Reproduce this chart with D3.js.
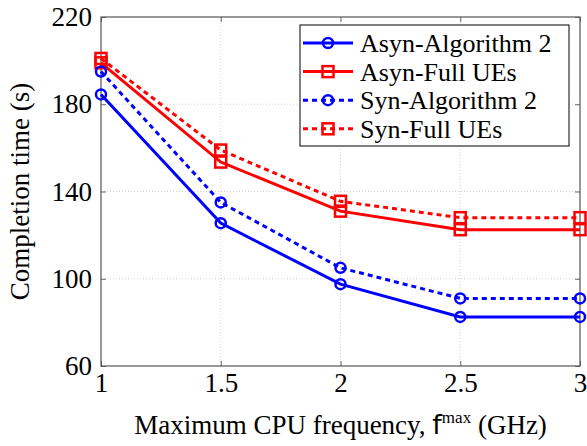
<!DOCTYPE html>
<html>
<head>
<meta charset="utf-8">
<script src="https://cdn.jsdelivr.net/npm/d3@7"></script>
<style>
  body { margin: 0; background: #fff; }
</style>
</head>
<body>
<div id="chart"></div>
<script>
(function() {

  var width = 587,
      height = 446

  var margin = { top: 17, right: 7, bottom: 80, left: 101 }

  // data
  var freqs = [1, 1.5, 2, 2.5, 3]
  var asynAlg = [184.5, 125.5, 97.5, 82.5, 82.5]
  var asynFull = [199, 153.5, 131, 122.5, 122.5]
  var synAlg = [195, 135, 105, 91, 91]
  var synFull = [201, 159, 135.5, 128, 128]

  var xTicks = [1, 1.5, 2, 2.5, 3]
  var yTicks = [60, 100, 140, 180, 220]

  var series = [
    { name: "Asyn-Algorithm 2", values: asynAlg, color: "#0000ff", dash: null, marker: "circle" },
    { name: "Asyn-Full UEs", values: asynFull, color: "#ff0000", dash: null, marker: "square" },
    { name: "Syn-Algorithm 2", values: synAlg, color: "#0000ff", dash: "5,4", marker: "circle" },
    { name: "Syn-Full UEs", values: synFull, color: "#ff0000", dash: "5,4", marker: "square" }
  ]

  var serif = "'Liberation Serif', 'Times New Roman', 'DejaVu Serif', serif"

  var svg = d3.select("#chart")
    .append("svg")
    .attr("width", width)
    .attr("height", height)
    .attr("font-family", serif)

  var x = d3.scaleLinear().domain([1, 3]).range([margin.left, width - margin.right])
  var y = d3.scaleLinear().domain([60, 220]).range([height - margin.bottom, margin.top])

  // grid
  svg.append("g").selectAll("line.gx")
    .data(xTicks.slice(1, -1))
    .enter().append("line")
    .attr("x1", d => x(d)).attr("x2", d => x(d))
    .attr("y1", y(60)).attr("y2", y(220))
    .attr("stroke", "#c8c8c8").attr("stroke-width", 0.8).attr("stroke-dasharray", "1,2")

  svg.append("g").selectAll("line.gy")
    .data(yTicks.slice(1, -1))
    .enter().append("line")
    .attr("y1", d => y(d)).attr("y2", d => y(d))
    .attr("x1", x(1)).attr("x2", x(3))
    .attr("stroke", "#c8c8c8").attr("stroke-width", 0.8).attr("stroke-dasharray", "1,2")

  // axes with inward ticks
  var fmt = d3.format("")
  svg.append("g")
    .attr("transform", "translate(0," + y(60) + ")")
    .call(d3.axisBottom(x).tickValues(xTicks).tickSize(-5).tickPadding(7).tickFormat(fmt))
    .call(g => g.select(".domain").remove())
    .call(g => g.selectAll("line").attr("stroke", "#666"))
    .call(g => g.selectAll("text").attr("font-size", 27).attr("font-family", serif).attr("fill", "#000"))

  svg.append("g")
    .attr("transform", "translate(" + x(1) + ",0)")
    .call(d3.axisLeft(y).tickValues(yTicks).tickSize(-5).tickPadding(9))
    .call(g => g.select(".domain").remove())
    .call(g => g.selectAll("line").attr("stroke", "#666"))
    .call(g => g.selectAll("text").attr("font-size", 27).attr("font-family", serif).attr("fill", "#000"))

  svg.append("g")
    .attr("transform", "translate(0," + y(220) + ")")
    .call(d3.axisTop(x).tickValues(xTicks).tickSize(-5).tickFormat(""))
    .call(g => g.select(".domain").remove())
    .call(g => g.selectAll("line").attr("stroke", "#666"))

  svg.append("g")
    .attr("transform", "translate(" + x(3) + ",0)")
    .call(d3.axisRight(y).tickValues(yTicks).tickSize(-5).tickFormat(""))
    .call(g => g.select(".domain").remove())
    .call(g => g.selectAll("line").attr("stroke", "#666"))

  // frame
  svg.append("rect")
    .attr("x", x(1)).attr("y", y(220))
    .attr("width", x(3) - x(1)).attr("height", y(60) - y(220))
    .attr("fill", "none").attr("stroke", "#555").attr("stroke-width", 1.2)

  var line = d3.line()
    .x((d, i) => x(freqs[i]))
    .y(d => y(d))

  function drawMarker(g, type, cx, cy, color) {
    if (type === "circle") {
      g.append("circle")
        .attr("cx", cx).attr("cy", cy).attr("r", 5)
        .attr("fill", "none").attr("stroke", color).attr("stroke-width", 2.5)
    } else {
      g.append("rect")
        .attr("x", cx - 5.5).attr("y", cy - 5.5).attr("width", 11).attr("height", 11)
        .attr("fill", "none").attr("stroke", color).attr("stroke-width", 2.5)
    }
  }

  series.forEach(function(s) {
    var g = svg.append("g")
    g.append("path")
      .datum(s.values)
      .attr("d", line)
      .attr("fill", "none")
      .attr("stroke", s.color)
      .attr("stroke-width", 3)
      .attr("stroke-dasharray", s.dash)
    s.values.forEach(function(v, i) {
      drawMarker(g, s.marker, x(freqs[i]), y(v), s.color)
    })
  })

  // legend
  var lg = svg.append("g")
  lg.append("rect")
    .attr("x", 300).attr("y", 25).attr("width", 269).attr("height", 121)
    .attr("fill", "#fff").attr("stroke", "#000").attr("stroke-width", 1)

  series.forEach(function(s, i) {
    var cy = 43 + i * 28.6
    lg.append("line")
      .attr("x1", 303).attr("x2", 353)
      .attr("y1", cy).attr("y2", cy)
      .attr("stroke", s.color).attr("stroke-width", 3)
      .attr("stroke-dasharray", s.dash)
    drawMarker(lg, s.marker, 328, cy, s.color)
    lg.append("text")
      .attr("x", 360).attr("y", cy + 9)
      .attr("font-size", 26)
      .text(s.name)
  })

  // axis titles
  svg.append("text")
    .attr("transform", "translate(29," + ((y(60) + y(220)) / 2) + ") rotate(-90)")
    .attr("text-anchor", "middle")
    .attr("font-size", 27)
    .text("Completion time (s)")

  var xl = svg.append("text")
    .attr("x", (x(1) + x(3)) / 2)
    .attr("y", 434)
    .attr("text-anchor", "middle")
    .attr("font-size", 27)
  xl.append("tspan").text("Maximum CPU frequency, ")
  xl.append("tspan").attr("font-family", "'DejaVu Sans', sans-serif").text("f")
  xl.append("tspan").attr("font-size", 17).attr("dy", -11).text("max")
  xl.append("tspan").attr("dy", 11).text(" (GHz)")

})()
</script>
</body>
</html>
